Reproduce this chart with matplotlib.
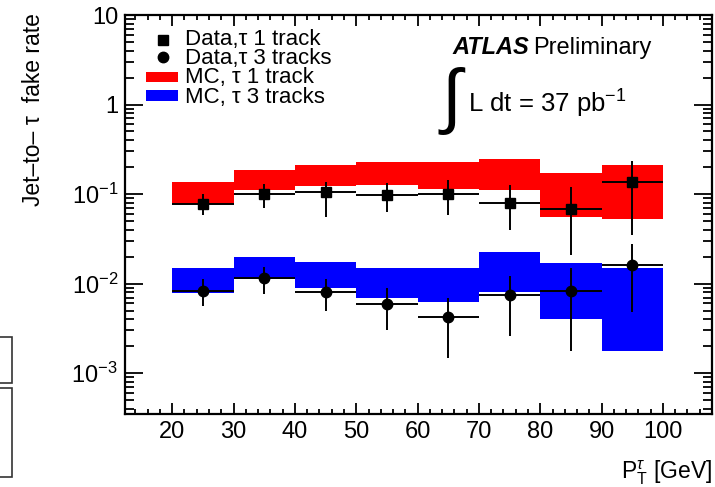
import matplotlib
matplotlib.use('Agg')
import matplotlib.pyplot as plt
import numpy as np
from matplotlib.patches import Rectangle
from matplotlib.lines import Line2D
from matplotlib.ticker import LogLocator, MultipleLocator, FixedLocator, FixedFormatter, NullFormatter

plt.rcParams['font.family'] = ['Liberation Sans', 'DejaVu Sans']
plt.rcParams['mathtext.fontset'] = 'custom'
plt.rcParams['mathtext.rm'] = 'Liberation Sans'
plt.rcParams['mathtext.it'] = 'Liberation Sans:italic'
plt.rcParams['mathtext.bf'] = 'Liberation Sans:bold'

# ---------------- data ----------------
bin_edges = [20, 30, 40, 50, 60, 70, 80, 90, 100]
bin_centers = [25, 35, 45, 55, 65, 75, 85, 95]

mc1_low = [0.078, 0.110, 0.122, 0.125, 0.114, 0.110, 0.056, 0.053]
mc1_high = [0.135, 0.184, 0.210, 0.230, 0.230, 0.249, 0.170, 0.210]
mc3_low = [0.0079, 0.0114, 0.0090, 0.0070, 0.0062, 0.0080, 0.0040, 0.00176]
mc3_high = [0.0151, 0.0199, 0.0176, 0.0151, 0.0151, 0.0227, 0.0171, 0.0151]

data1 = [0.078, 0.100, 0.105, 0.097, 0.100, 0.080, 0.068, 0.135]
data1_up = [0.100, 0.128, 0.135, 0.132, 0.142, 0.125, 0.119, 0.236]
data1_dn = [0.059, 0.070, 0.056, 0.063, 0.059, 0.040, 0.021, 0.0346]
data3 = [0.0082, 0.01156, 0.0080, 0.00588, 0.00427, 0.0075, 0.0082, 0.0160]
data3_up = [0.0113, 0.0155, 0.0113, 0.0089, 0.0070, 0.0122, 0.0151, 0.0277]
data3_dn = [0.0056, 0.0077, 0.0050, 0.0030, 0.00146, 0.00257, 0.00179, 0.00476]

ytick_vals = [1e-3, 1e-2, 1e-1, 1, 10]
ytick_labels = [r'$10^{-3}$', r'$10^{-2}$', r'$10^{-1}$', '1', '10']
xtick_vals = [20, 30, 40, 50, 60, 70, 80, 90, 100]

# ---------------- figure ----------------
W, H = 715, 487
fig = plt.figure(figsize=(W / 100, H / 100), dpi=100)
ax = fig.add_axes([125 / W, 1 - 414 / H, (712 - 125) / W, (414 - 15) / H])

widths = np.diff(bin_edges)
lefts = np.array(bin_edges[:-1])
c = np.array(bin_centers)

ax.bar(lefts, np.array(mc1_high) - np.array(mc1_low), bottom=mc1_low, width=widths,
       align='edge', color='#ff0000', linewidth=0, zorder=1)
ax.bar(lefts, np.array(mc3_high) - np.array(mc3_low), bottom=mc3_low, width=widths,
       align='edge', color='#0000ff', linewidth=0, zorder=1)

d1 = np.array(data1)
d3 = np.array(data3)
ax.errorbar(c, d1, xerr=widths / 2,
            yerr=[d1 - np.array(data1_dn), np.array(data1_up) - d1],
            fmt='s', color='black', ms=7, elinewidth=1.4, capsize=0, zorder=3)
ax.errorbar(c, d3, xerr=widths / 2,
            yerr=[d3 - np.array(data3_dn), np.array(data3_up) - d3],
            fmt='o', color='black', ms=7.5, elinewidth=1.4, capsize=0, zorder=3)

ax.set_yscale('log')
ax.set_xlim(12.3, 108)
ax.set_ylim(3.5e-4, 10)

ax.yaxis.set_major_locator(FixedLocator(ytick_vals))
ax.yaxis.set_major_formatter(FixedFormatter(ytick_labels))
ax.yaxis.set_minor_locator(LogLocator(base=10, subs=np.arange(2, 10)))
ax.yaxis.set_minor_formatter(NullFormatter())
ax.xaxis.set_major_locator(FixedLocator(xtick_vals))
ax.xaxis.set_minor_locator(MultipleLocator(2))

ax.tick_params(axis='both', which='both', direction='in', top=True, right=True,
               color='black', width=1.3)
ax.tick_params(axis='y', which='major', length=13, labelsize=17, pad=5)
ax.tick_params(axis='y', which='minor', length=6.5)
ax.tick_params(axis='x', which='major', length=8, labelsize=17, pad=5)
ax.tick_params(axis='x', which='minor', length=3.5)
for s in ax.spines.values():
    s.set_linewidth(1.6)

# ---------------- legend (manual, axes coords) ----------------
def fx(px):
    return (px - 125) / (712 - 125)

def fy(py):
    return (414 - py) / (414 - 15)

leg_fs = 16
ax.add_line(Line2D([fx(163)], [fy(40)], marker='s', ms=7, color='black',
                   transform=ax.transAxes, linestyle='none'))
ax.add_line(Line2D([fx(163)], [fy(57)], marker='o', ms=7.5, color='black',
                   transform=ax.transAxes, linestyle='none'))
ax.add_patch(Rectangle((fx(146), fy(82)), fx(178) - fx(146), fy(72) - fy(82),
                       transform=ax.transAxes, color='#ff0000', lw=0))
ax.add_patch(Rectangle((fx(146), fy(101)), fx(178) - fx(146), fy(90) - fy(101),
                       transform=ax.transAxes, color='#0000ff', lw=0))
leg_labels = ['Data,\u03c4 1 track', 'Data,\u03c4 3 tracks', 'MC, \u03c4 1 track', 'MC, \u03c4 3 tracks']
for i, lab in enumerate(leg_labels):
    ax.text(fx(185), fy(45 + i * 19.2), lab, transform=ax.transAxes,
            fontsize=leg_fs, va='baseline', ha='left')

# ---------------- annotations ----------------
fig.text(452 / W, 1 - 54 / H, 'ATLAS', fontsize=17, fontweight='bold', style='italic',
         va='baseline', ha='left')
fig.text(533 / W, 1 - 54 / H, 'Preliminary', fontsize=17, va='baseline', ha='left')
fig.text(451 / W, 1 - 101 / H, '\u222b', fontsize=52, family='Liberation Sans',
         va='center', ha='center')
fig.text(468 / W, 1 - 113 / H, r'L dt = 37 pb$^{\mathregular{-1}}$', fontsize=18.5,
         va='baseline', ha='left')

fig.text(34 / W, 1 - 110 / H, 'Jet\u2013to\u2013 \u03c4  fake rate', rotation=90,
         fontsize=16.5, va='center', ha='center')
fig.text(712 / W, 1 - 478 / H, r'$\mathrm{P}_{\mathrm{T}}^{\tau}$ [GeV]', fontsize=16.5,
         va='baseline', ha='right')

# fragments of neighbouring boxes at the left edge
fig.add_artist(Rectangle((-2 / W, 1 - 383 / H), 14 / W, 46 / H, transform=fig.transFigure,
                         fill=False, edgecolor='#333333', lw=1.2))
fig.add_artist(Rectangle((-2 / W, 1 - 477 / H), 14 / W, 89 / H, transform=fig.transFigure,
                         fill=False, edgecolor='#333333', lw=1.2))

fig.savefig('out.png', dpi=100)
